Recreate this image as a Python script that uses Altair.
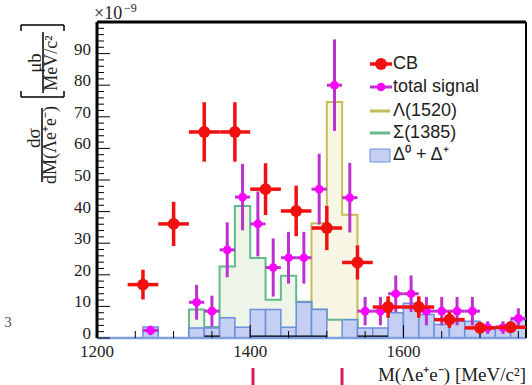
import altair as alt
import pandas as pd

# ---------------- data ----------------
bin_lo = [1200 + 20 * i for i in range(28)]
sigma_1385 = [0, 0, 0, 0, 0, 0, 9.0, 3.5, 22.6, 41.8, 25.3, 12.1, 19.7, 11.5,
              9.0, 5.8, 5.8, 1.5, 1.0, 1.0, 0.5, 0.5, 0.5, 0, 0, 0, 0, 0]
lambda_1520 = [0, 0, 0, 0, 0, 0, 0.6, 0.6, 0.6, 0.6, 0.6, 0.6, 0.6, 0.6,
               36.3, 74.7, 39.0, 0.5, 0.5, 0.5, 0, 0, 0, 0, 0, 0, 0, 0]
delta_sum = [0, 0, 0, 3.5, 0, 0, 3.2, 3.2, 6.4, 3.4, 9.0, 9.0, 3.4, 11.3,
             9.0, 0, 5.8, 3.2, 3.2, 8.0, 11.0, 7.4, 4.3, 5.3, 5.3, 3.2, 3.0, 5.8]
other_bg = [0, 0, 0, 0, 0, 0, 0, 0.8, 0, 0, 0.8, 0.8, 0.8, 0.8,
            0.8, 0, 0, 0.8, 0.8, 0, 0, 0, 0, 0, 0, 0, 0, 0]

cb_mass = [1260, 1300, 1340, 1380, 1420, 1460, 1500, 1540, 1580, 1620, 1660, 1700, 1740]
cb_val = [16.9, 36.1, 65.2, 65.2, 47.1, 40.2, 34.8, 23.9, 9.8, 9.8, 5.8, 3.2, 3.4]
cb_err = [4.7, 7.0, 9.4, 9.4, 8.2, 8.0, 7.0, 5.4, 3.4, 3.4, 2.6, 1.8, 1.8]

ts_mass = [1270, 1330, 1350, 1370, 1390, 1410, 1430, 1450, 1470, 1490, 1510, 1530,
           1550, 1570, 1590, 1610, 1630, 1650, 1670, 1690, 1710, 1730, 1750]
ts_val = [2.4, 11.3, 8.5, 27.9, 44.6, 36.1, 22.3, 25.4, 25.4, 47.1, 80.0, 44.4,
          8.5, 8.5, 14.0, 14.0, 8.5, 8.5, 8.5, 8.5, 3.3, 3.3, 6.2]
ts_err = [1.5, 5.5, 4.9, 8.7, 10.5, 10.3, 9.2, 8.2, 8.2, 11.2, 14.5, 11.0,
          4.5, 4.5, 5.8, 5.8, 4.5, 4.5, 4.5, 4.5, 2.0, 2.0, 3.2]

x_ticks_major = [1200, 1400, 1600]
x_ticks_minor = [1250, 1300, 1350, 1450, 1500, 1550, 1650, 1700, 1750]
y_ticks_major = list(range(0, 101, 10))
y_ticks_minor = [v for v in range(0, 101, 2) if v % 10]
y_labels = list(range(0, 91, 10))
x_labels = [1200, 1400, 1600]

legend_labels = ["CB", "total signal", "Λ(1520)", "Σ(1385)", "Δ⁰ + Δ⁺"]

# ---------------- styling ----------------
W, H = 429, 316
SERIF = "Liberation Serif"
SANS = "Liberation Sans"
RED = "#f01010"
MAG = "#ff00ff"
MAG_BAR = "#bb33cc"
OLIVE = "#c5bd55"
GREEN = "#63b98b"
BLUE_FILL = "#c4cff3"
BLUE_EDGE = "#6d8edb"
TXT = "#222222"

xs = alt.Scale(domain=[1200, 1760], nice=False, zero=False)
ys = alt.Scale(domain=[0, 100], nice=False, zero=False)


def qx(f):
    return alt.X(f, type="quantitative", scale=xs, axis=None, title=None)


def qy(f):
    return alt.Y(f, type="quantitative", scale=ys, axis=None, title=None)


hist = pd.DataFrame({"lo": bin_lo, "hi": [b + 20 for b in bin_lo],
                     "sig": sigma_1385, "lam": lambda_1520,
                     "dlt": delta_sum, "blk": other_bg})
edge = hist.iloc[[-1]].copy()
edge["lo"] = 1760
step = pd.concat([hist, edge], ignore_index=True)

cb = pd.DataFrame({"m": cb_mass, "v": cb_val, "e": cb_err})
cb["lo"] = cb.v - cb.e
cb["hi"] = cb.v + cb.e
cb["xl"] = cb.m - 20
cb["xh"] = cb.m + 20

ts = pd.DataFrame({"m": ts_mass, "v": ts_val, "e": ts_err})
ts["lo"] = ts.v - ts.e
ts["hi"] = ts.v + ts.e
ts["xl"] = ts.m - 10
ts["xh"] = ts.m + 10

dummy = alt.Data(values=[{"a": 1}])

layers = []

# histogram fills
layers.append(alt.Chart(step).mark_area(interpolate="step-after", color="#edf5e8")
              .encode(x=qx("lo"), y=qy("sig")))
layers.append(alt.Chart(step).mark_area(interpolate="step-after", color="#f7f5e4")
              .encode(x=qx("lo"), y=qy("lam")))
# outlines
layers.append(alt.Chart(step).mark_line(interpolate="step-after", color=OLIVE, strokeWidth=2)
              .encode(x=qx("lo"), y=qy("lam")))
layers.append(alt.Chart(step).mark_line(interpolate="step-after", color=GREEN, strokeWidth=2)
              .encode(x=qx("lo"), y=qy("sig")))
# Delta boxes
layers.append(alt.Chart(hist[hist.dlt > 0]).mark_rect(fill=BLUE_FILL, stroke=BLUE_EDGE, strokeWidth=1.5)
              .encode(x=qx("lo"), x2="hi", y=qy("dlt"), y2=alt.datum(0)))
# other small background (black)
layers.append(alt.Chart(hist[hist.blk > 0]).mark_rect(fill="black")
              .encode(x=qx("lo"), x2="hi", y=qy("blk"), y2=alt.datum(0)))
# baseline of Delta histogram
layers.append(alt.Chart(pd.DataFrame({"a": [1200], "b": [1760], "y": [0]}))
              .mark_rule(color="#7f9fe0", strokeWidth=2.5)
              .encode(x=qx("a"), x2="b", y=qy("y")))

# frame
layers.append(alt.Chart(dummy).mark_rule(strokeWidth=3, color="black")
              .encode(x=alt.value(0), y=alt.value(0), y2=alt.value(H)))
layers.append(alt.Chart(dummy).mark_rule(strokeWidth=3, color="black")
              .encode(x=alt.value(0), x2=alt.value(W), y=alt.value(0)))
layers.append(alt.Chart(dummy).mark_rule(strokeWidth=2, color="black")
              .encode(x=alt.value(W), y=alt.value(0), y2=alt.value(H)))

# ticks (inside)
layers.append(alt.Chart(pd.DataFrame({"t": y_ticks_major})).mark_rule(color="black", strokeWidth=1)
              .encode(y=qy("t"), x=alt.value(0), x2=alt.value(13)))
layers.append(alt.Chart(pd.DataFrame({"t": y_ticks_minor})).mark_rule(color="black", strokeWidth=1)
              .encode(y=qy("t"), x=alt.value(0), x2=alt.value(7)))
layers.append(alt.Chart(pd.DataFrame({"t": x_ticks_major})).mark_rule(color="black", strokeWidth=1)
              .encode(x=qx("t"), y=alt.value(H), y2=alt.value(H - 13)))
layers.append(alt.Chart(pd.DataFrame({"t": x_ticks_minor})).mark_rule(color="black", strokeWidth=1)
              .encode(x=qx("t"), y=alt.value(H), y2=alt.value(H - 7)))

# tick labels
layers.append(alt.Chart(pd.DataFrame({"t": y_labels}))
              .mark_text(align="right", baseline="middle", font=SERIF, fontSize=17, color=TXT, dy=-4)
              .encode(y=qy("t"), x=alt.value(-6), text=alt.Text("t:Q", format="d")))
layers.append(alt.Chart(pd.DataFrame({"t": x_labels}))
              .mark_text(align="center", baseline="top", font=SERIF, fontSize=17, color=TXT)
              .encode(x=qx("t"), y=alt.value(H + 6), text=alt.Text("t:Q", format="d")))

# total signal
layers.append(alt.Chart(ts).mark_rule(color=MAG_BAR, strokeWidth=3)
              .encode(x=qx("m"), y=qy("lo"), y2="hi"))
layers.append(alt.Chart(ts).mark_rule(color=MAG_BAR, strokeWidth=3)
              .encode(x=qx("xl"), x2="xh", y=qy("v")))
layers.append(alt.Chart(ts).mark_circle(color=MAG, size=75, opacity=1)
              .encode(x=qx("m"), y=qy("v")))

# CB
layers.append(alt.Chart(cb).mark_rule(color=RED, strokeWidth=3.5)
              .encode(x=qx("m"), y=qy("lo"), y2="hi"))
layers.append(alt.Chart(cb).mark_rule(color=RED, strokeWidth=3.5)
              .encode(x=qx("xl"), x2="xh", y=qy("v")))
layers.append(alt.Chart(cb).mark_circle(color=RED, size=140, opacity=1)
              .encode(x=qx("m"), y=qy("v")))


def txt(s, x, y, size, angle=0, align="center", font=SERIF, color=TXT, baseline="middle"):
    return alt.Chart(dummy).mark_text(text=s, fontSize=size, font=font, angle=angle,
                                      align=align, baseline=baseline, color=color
                                      ).encode(x=alt.value(x), y=alt.value(y))


def seg(x1, x2, y1, y2, color="black", w=1.5):
    return alt.Chart(dummy).mark_rule(color=color, strokeWidth=w).encode(
        x=alt.value(x1), x2=alt.value(x2), y=alt.value(y1), y2=alt.value(y2))


# x-axis title
layers.append(txt("M(Λe⁺e⁻) [MeV/c²]", W, H + 42.5, 19, align="right", baseline="alphabetic"))

# legend
leg_y = [42, 65, 89, 111, 133]
layers.append(seg(273, 295, leg_y[0], leg_y[0], RED, 3.5))
layers.append(alt.Chart(dummy).mark_circle(color=RED, size=140, opacity=1)
              .encode(x=alt.value(284), y=alt.value(leg_y[0])))
layers.append(seg(273, 295, leg_y[1], leg_y[1], MAG_BAR, 3))
layers.append(alt.Chart(dummy).mark_circle(color=MAG, size=75, opacity=1)
              .encode(x=alt.value(284), y=alt.value(leg_y[1])))
layers.append(seg(273, 293, leg_y[2], leg_y[2], OLIVE, 3))
layers.append(seg(273, 293, leg_y[3], leg_y[3], GREEN, 3))
layers.append(alt.Chart(dummy).mark_rect(fill=BLUE_FILL, stroke=BLUE_EDGE, strokeWidth=1)
              .encode(x=alt.value(273), x2=alt.value(293), y=alt.value(127), y2=alt.value(140)))
for lab, yy in zip(legend_labels, leg_y):
    layers.append(txt(lab, 296, yy, 18, align="left", font=SANS))

# y-axis title (composed fraction)
layers.append(txt("dσ", -63, 116, 19, angle=270))
layers.append(seg(-55, -55, 86, 160))
layers.append(txt("dM(Λe⁺e⁻)", -46, 123, 18, angle=270))
layers.append(txt("μb", -62, 41, 19, angle=270))
layers.append(seg(-54, -54, 10, 71))
layers.append(txt("MeV/c²", -45, 41, 18, angle=270))
# brackets
layers.append(seg(-76, -33, 75, 75))
layers.append(seg(-76, -76, 75, 69))
layers.append(seg(-33, -33, 75, 69))
layers.append(seg(-76, -33, 3, 3))
layers.append(seg(-76, -76, 3, 9))
layers.append(seg(-33, -33, 3, 9))

# exponent
layers.append(txt("×10", -3, -3, 18, align="left", baseline="alphabetic"))
layers.append(txt("−9", 27, -10, 12, align="left", baseline="alphabetic"))

# stray marks in the picture
layers.append(txt("3", -89, 300, 15, color="#555555"))
layers.append(seg(156, 156, 346, 363, "#d81b60", 3))
layers.append(seg(245, 245, 346, 363, "#d81b60", 3))

chart = alt.layer(*layers).properties(
    width=W, height=H,
    padding={"left": 97, "top": 22, "right": 6, "bottom": 47},
    autosize=alt.AutoSizeParams(type="none"),
    background="white",
).configure_view(stroke=None)

chart.save("out.html", embed_options={"renderer": "svg", "actions": False})
